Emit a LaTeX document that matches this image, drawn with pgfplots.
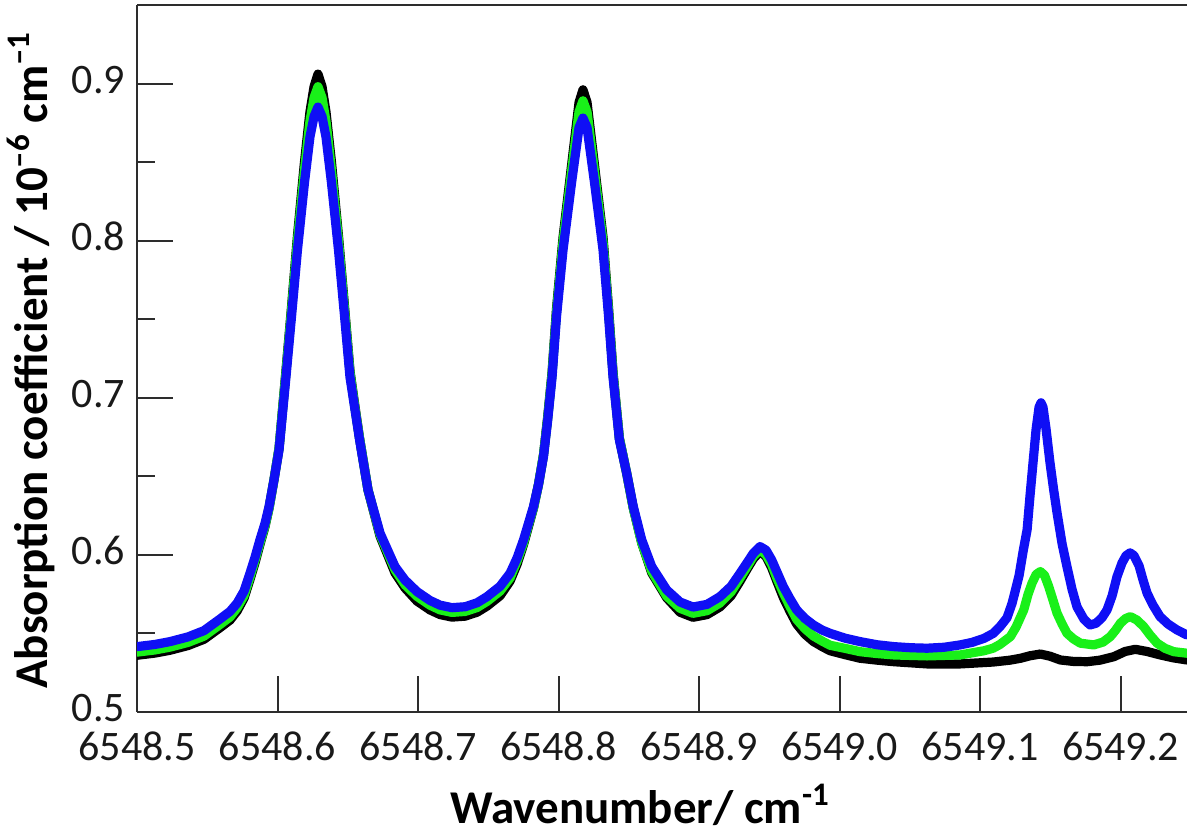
\documentclass[border=0pt]{standalone}
\usepackage{fontspec}
\setmainfont{Carlito}
\usepackage{pgfplots}
\pgfplotsset{compat=1.18}
\definecolor{axgray}{RGB}{45,45,45}
\definecolor{lblgray}{RGB}{25,25,25}
\definecolor{sblue}{RGB}{15,15,245}
\definecolor{sgreen}{RGB}{25,240,25}
\begin{document}
\begin{tikzpicture}
\begin{axis}[
  at={(0pt,0pt)}, anchor=south west,
  scale only axis, width=525pt, height=353.5pt,
  xmin=6548.5, xmax=6549.2473, ymin=0.5, ymax=0.95,
  axis x line=bottom, axis y line=left,
  axis line style={-, line width=1.2pt, color=axgray},
  xtick={6548.5,6548.6,6548.7,6548.8,6548.9,6549.0,6549.1,6549.2},
  ytick={0.5,0.6,0.7,0.8,0.9},
  minor ytick={0.55,0.65,0.75,0.85},
  tick align=inside,
  major tick length=18pt, minor tick length=9pt,
  every tick/.style={line width=1pt, color=axgray},
  scaled x ticks=false, scaled y ticks=false,
  /pgf/number format/assume math mode=true,
  xticklabel style={font=\fontsize{21}{25}\selectfont, color=lblgray,
    /pgf/number format/fixed, /pgf/number format/precision=1,
    /pgf/number format/fixed zerofill, /pgf/number format/1000 sep={},
    yshift=-6.5pt},
  yticklabel style={font=\fontsize{21}{25}\selectfont, color=lblgray,
    /pgf/number format/fixed, /pgf/number format/precision=1,
    /pgf/number format/fixed zerofill, xshift=-2.5pt, yshift=2pt},
  clip=true,
]
\addplot[black, line width=4.6pt, line join=round, line cap=round] table {
6548.5000 0.5361
6548.5128 0.5375
6548.5235 0.5393
6548.5363 0.5423
6548.5477 0.5463
6548.5591 0.5537
6548.5662 0.5585
6548.5712 0.5642
6548.5762 0.5725
6548.5804 0.5843
6548.5840 0.5950
6548.5875 0.6066
6548.5911 0.6180
6548.5940 0.6298
6548.5975 0.6478
6548.6011 0.6679
6548.6060 0.7170
6548.6100 0.7580
6548.6142 0.8030
6548.6192 0.8500
6548.6231 0.8820
6548.6260 0.8980
6548.6288 0.9060
6548.6317 0.8980
6548.6345 0.8820
6548.6384 0.8500
6548.6434 0.8030
6548.6477 0.7580
6548.6516 0.7170
6548.6552 0.6940
6548.6584 0.6742
6548.6644 0.6414
6548.6730 0.6118
6548.6836 0.5886
6548.6907 0.5790
6548.6993 0.5706
6548.7085 0.5650
6548.7157 0.5620
6548.7242 0.5604
6548.7335 0.5610
6548.7420 0.5635
6548.7491 0.5674
6548.7584 0.5740
6548.7655 0.5833
6548.7705 0.5940
6548.7751 0.6066
6548.7786 0.6180
6548.7822 0.6298
6548.7858 0.6450
6548.7893 0.6636
6548.7922 0.6870
6548.7954 0.7160
6548.7986 0.7570
6548.8032 0.8020
6548.8093 0.8480
6548.8146 0.8880
6548.8174 0.8960
6548.8203 0.8880
6548.8256 0.8480
6548.8317 0.8020
6548.8356 0.7570
6548.8388 0.7160
6548.8433 0.6742
6548.8485 0.6520
6548.8532 0.6298
6548.8592 0.6076
6548.8663 0.5886
6548.8770 0.5727
6548.8865 0.5635
6548.8957 0.5603
6548.9057 0.5620
6548.9149 0.5669
6548.9228 0.5740
6548.9292 0.5833
6548.9342 0.5910
6548.9386 0.5975
6548.9434 0.6023
6548.9477 0.5990
6548.9517 0.5918
6548.9555 0.5830
6548.9600 0.5728
6548.9648 0.5640
6548.9695 0.5560
6548.9754 0.5495
6548.9814 0.5449
6548.9875 0.5417
6548.9932 0.5390
6549.0039 0.5365
6549.0146 0.5342
6549.0267 0.5330
6549.0388 0.5320
6549.0623 0.5306
6549.0858 0.5306
6549.1093 0.5318
6549.1214 0.5330
6549.1288 0.5342
6549.1356 0.5358
6549.1429 0.5369
6549.1498 0.5355
6549.1572 0.5331
6549.1662 0.5322
6549.1762 0.5320
6549.1854 0.5330
6549.1952 0.5352
6549.2032 0.5385
6549.2105 0.5399
6549.2189 0.5385
6549.2283 0.5363
6549.2374 0.5345
6549.2473 0.5331
};
\addplot[sgreen, line width=4.6pt, line join=round, line cap=round] table {
6548.5000 0.5381
6548.5128 0.5395
6548.5235 0.5413
6548.5363 0.5443
6548.5477 0.5483
6548.5591 0.5557
6548.5662 0.5605
6548.5712 0.5662
6548.5762 0.5740
6548.5804 0.5858
6548.5840 0.5965
6548.5875 0.6076
6548.5911 0.6185
6548.5940 0.6298
6548.5975 0.6478
6548.6011 0.6679
6548.6060 0.7160
6548.6100 0.7560
6548.6142 0.8000
6548.6192 0.8450
6548.6231 0.8760
6548.6260 0.8910
6548.6288 0.8980
6548.6317 0.8910
6548.6345 0.8760
6548.6384 0.8450
6548.6434 0.8000
6548.6477 0.7560
6548.6516 0.7160
6548.6552 0.6930
6548.6584 0.6742
6548.6644 0.6414
6548.6730 0.6128
6548.6836 0.5906
6548.6907 0.5810
6548.6993 0.5736
6548.7085 0.5680
6548.7157 0.5650
6548.7242 0.5634
6548.7335 0.5640
6548.7420 0.5665
6548.7491 0.5704
6548.7584 0.5770
6548.7655 0.5853
6548.7705 0.5960
6548.7751 0.6076
6548.7786 0.6190
6548.7822 0.6298
6548.7858 0.6450
6548.7893 0.6636
6548.7922 0.6860
6548.7954 0.7150
6548.7986 0.7550
6548.8032 0.7990
6548.8093 0.8440
6548.8146 0.8820
6548.8174 0.8890
6548.8203 0.8820
6548.8256 0.8440
6548.8317 0.7990
6548.8356 0.7550
6548.8388 0.7150
6548.8433 0.6742
6548.8485 0.6520
6548.8532 0.6298
6548.8592 0.6076
6548.8663 0.5896
6548.8770 0.5737
6548.8865 0.5660
6548.8957 0.5628
6548.9057 0.5645
6548.9149 0.5694
6548.9228 0.5765
6548.9292 0.5853
6548.9342 0.5925
6548.9386 0.5990
6548.9434 0.6033
6548.9477 0.6000
6548.9517 0.5938
6548.9555 0.5850
6548.9600 0.5758
6548.9648 0.5670
6548.9695 0.5590
6548.9754 0.5530
6548.9814 0.5484
6548.9875 0.5452
6548.9932 0.5425
6549.0039 0.5405
6549.0146 0.5384
6549.0267 0.5372
6549.0388 0.5363
6549.0623 0.5357
6549.0858 0.5363
6549.1029 0.5390
6549.1093 0.5406
6549.1142 0.5430
6549.1216 0.5480
6549.1256 0.5540
6549.1311 0.5650
6549.1342 0.5750
6549.1370 0.5820
6549.1399 0.5875
6549.1429 0.5894
6549.1459 0.5870
6549.1489 0.5798
6549.1520 0.5710
6549.1548 0.5629
6549.1584 0.5560
6549.1619 0.5501
6549.1665 0.5465
6549.1714 0.5438
6549.1809 0.5427
6549.1875 0.5445
6549.1927 0.5480
6549.1964 0.5520
6549.1999 0.5565
6549.2036 0.5595
6549.2070 0.5607
6549.2117 0.5585
6549.2165 0.5543
6549.2210 0.5490
6549.2260 0.5438
6549.2317 0.5405
6549.2379 0.5384
6549.2473 0.5374
};
\addplot[sblue, line width=4.6pt, line join=round, line cap=round] table {
6548.5000 0.5416
6548.5128 0.5430
6548.5235 0.5448
6548.5363 0.5478
6548.5477 0.5518
6548.5591 0.5592
6548.5662 0.5640
6548.5712 0.5692
6548.5762 0.5770
6548.5804 0.5883
6548.5840 0.5985
6548.5875 0.6096
6548.5911 0.6200
6548.5940 0.6308
6548.5975 0.6478
6548.6011 0.6669
6548.6060 0.7130
6548.6100 0.7520
6548.6142 0.7940
6548.6192 0.8370
6548.6231 0.8660
6548.6260 0.8790
6548.6288 0.8850
6548.6317 0.8790
6548.6345 0.8660
6548.6384 0.8370
6548.6434 0.7940
6548.6477 0.7520
6548.6516 0.7130
6548.6552 0.6920
6548.6584 0.6732
6548.6644 0.6414
6548.6730 0.6138
6548.6836 0.5926
6548.6907 0.5840
6548.6993 0.5766
6548.7085 0.5710
6548.7157 0.5680
6548.7242 0.5664
6548.7335 0.5670
6548.7420 0.5695
6548.7491 0.5734
6548.7584 0.5800
6548.7655 0.5883
6548.7705 0.5980
6548.7751 0.6096
6548.7786 0.6200
6548.7822 0.6308
6548.7858 0.6450
6548.7893 0.6626
6548.7922 0.6850
6548.7954 0.7130
6548.7986 0.7520
6548.8032 0.7940
6548.8093 0.8370
6548.8146 0.8720
6548.8174 0.8780
6548.8203 0.8720
6548.8256 0.8370
6548.8317 0.7940
6548.8356 0.7520
6548.8388 0.7130
6548.8433 0.6732
6548.8485 0.6520
6548.8532 0.6308
6548.8592 0.6096
6548.8663 0.5926
6548.8770 0.5777
6548.8865 0.5700
6548.8957 0.5668
6548.9057 0.5685
6548.9149 0.5734
6548.9228 0.5800
6548.9292 0.5883
6548.9342 0.5950
6548.9386 0.6010
6548.9434 0.6053
6548.9477 0.6030
6548.9517 0.5968
6548.9555 0.5890
6548.9600 0.5798
6548.9648 0.5720
6548.9695 0.5650
6548.9754 0.5595
6548.9814 0.5554
6548.9875 0.5522
6548.9932 0.5501
6549.0039 0.5470
6549.0146 0.5448
6549.0267 0.5428
6549.0388 0.5416
6549.0509 0.5409
6549.0623 0.5406
6549.0744 0.5412
6549.0858 0.5427
6549.0943 0.5443
6549.1029 0.5469
6549.1093 0.5500
6549.1142 0.5543
6549.1192 0.5600
6549.1228 0.5692
6549.1256 0.5790
6549.1278 0.5870
6549.1306 0.6020
6549.1335 0.6160
6549.1356 0.6380
6549.1377 0.6586
6549.1399 0.6800
6549.1420 0.6940
6549.1434 0.6968
6549.1448 0.6940
6549.1470 0.6800
6549.1498 0.6586
6549.1523 0.6420
6549.1548 0.6268
6549.1584 0.6070
6549.1619 0.5924
6549.1655 0.5780
6549.1690 0.5669
6549.1740 0.5590
6549.1783 0.5554
6549.1826 0.5565
6549.1868 0.5600
6549.1904 0.5650
6549.1940 0.5740
6549.1975 0.5862
6549.2011 0.5950
6549.2039 0.5995
6549.2068 0.6013
6549.2096 0.5995
6549.2132 0.5930
6549.2160 0.5840
6549.2189 0.5756
6549.2231 0.5680
6549.2281 0.5607
6549.2338 0.5560
6549.2402 0.5522
6549.2473 0.5490
};
\draw[axgray, line width=1.2pt] (rel axis cs:0,1) -- (rel axis cs:1,1);
\end{axis}
\pgfresetboundingbox
\useasboundingbox (-68.5pt,-61pt) rectangle (525pt,356pt);
\node[font=\fontsize{23.5}{28}\selectfont\bfseries, inner sep=0pt] at (251.5pt,-46.5pt) {Wavenumber/ cm\textsuperscript{-1}};
\node[font=\fontsize{23.5}{28}\selectfont\bfseries, rotate=90, inner sep=0pt] at (-53pt,176pt) {Absorption coefficient / 10\textsuperscript{\textendash6} cm\textsuperscript{\textendash1}};
\end{tikzpicture}
\end{document}
